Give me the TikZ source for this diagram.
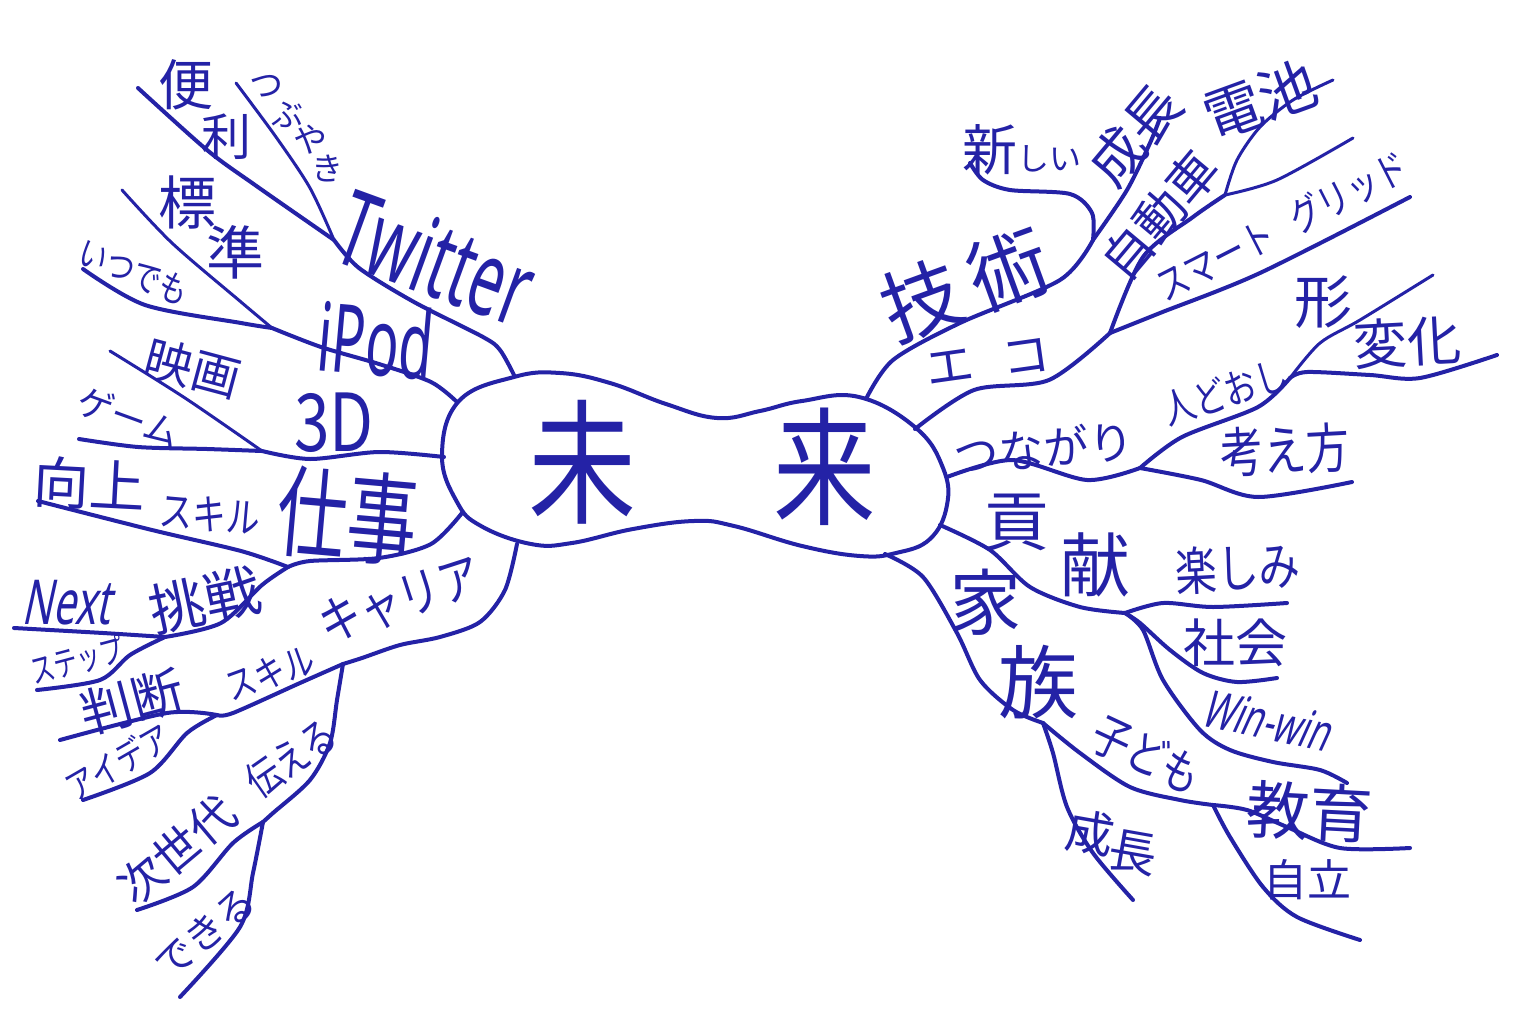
\documentclass[tikz,border=0pt]{standalone}
\usepackage{fontspec}
\newfontfamily\jp{Noto Sans CJK JP}
\newfontfamily\jpn[FakeStretch=0.8]{Noto Sans CJK JP}
\newfontfamily\jpt[FakeStretch=0.7]{Noto Sans CJK JP}
\newfontfamily\latnar[FakeStretch=0.58]{Noto Sans}
\newfontfamily\latslnar[FakeStretch=0.65,FakeSlant=0.22]{Noto Sans}
\newcommand{\fsz}[1]{\fontsize{#1}{#1}\selectfont}
\definecolor{ink}{RGB}{36,34,166}
\tikzset{
  branch/.style={draw=ink, line width=4pt, line cap=round, line join=round},
  twig/.style={draw=ink, line width=3pt, line cap=round, line join=round},
  lbl/.style={text=ink, inner sep=0pt, font=\jp\fsz{#1}},
  lbln/.style={text=ink, inner sep=0pt, font=\jpn\fsz{#1}},
  lblt/.style={text=ink, inner sep=0pt, font=\jpt\fsz{#1}},
  latn/.style={text=ink, inner sep=0pt, font=\latnar\fsz{#1}},
  latsl/.style={text=ink, inner sep=0pt, font=\latslnar\fsz{#1}},
}
\begin{document}
\begin{tikzpicture}[x=1pt,y=-1pt]
\fill[white] (0,0) rectangle (1521,1012);
\useasboundingbox (0,0) rectangle (1521,1012);

% central shape
\draw[branch] plot[smooth cycle, tension=0.7] coordinates {
 (442,455) (459,401) (514,377) (560,373) (610,383) (666,404) (717,418)
 (760,411) (802,401) (859,397) (916,428) (943,468) (947,505) (930,539)
 (896,553) (860,556) (802,546) (734,526) (694,521) (633,529) (572,543)
 (531,544) (481,526) (457,502)};
\node[lbln=135] (mi) at (582,462) {未};
\node[lbln=128] (rai) at (825,467) {来};

% attachment points
\coordinate (L1) at (514,375);
\coordinate (L2) at (457,402);
\coordinate (L3) at (444,457);
\coordinate (L4) at (462,513);
\coordinate (L5) at (517,544);
\coordinate (R1) at (866,399);
\coordinate (R2) at (915,429);
\coordinate (R3) at (947,477);
\coordinate (R4) at (940,525);
\coordinate (R5) at (885,554);

% branch points
\coordinate (tw) at (334,240);
\coordinate (ip) at (272,328);
\coordinate (dd) at (262,451);
\coordinate (sj) at (288,567);
\coordinate (ch) at (165,637);
\coordinate (ca) at (343,664);
\coordinate (hd) at (217,715);
\coordinate (js) at (263,822);
\coordinate (gj) at (1093,240);
\coordinate (ec) at (1110,333);
\coordinate (jd) at (1225,195);
\coordinate (tn) at (1140,468);
\coordinate (hd2) at (1290,378);
\coordinate (kk) at (1125,613);
\coordinate (kz) at (1043,723);
\coordinate (ko) at (1213,805);

% free ends
\coordinate (eBen) at (138,88);
\coordinate (eTsu) at (236,83);
\coordinate (eHyo) at (122,190);
\coordinate (eItsu) at (83,269);
\coordinate (eEiga) at (110,351);
\coordinate (eGame) at (79,439);
\coordinate (eKojo) at (38,501);
\coordinate (eNext) at (14,628);
\coordinate (eStep) at (37,690);
\coordinate (eHan) at (60,740);
\coordinate (eIdea) at (83,800);
\coordinate (eJis) at (137,910);
\coordinate (eDek) at (180,997);
\coordinate (eAta) at (970,163);
\coordinate (eSei) at (1160,118);
\coordinate (eDen) at (1333,80);
\coordinate (eJido) at (1353,138);
\coordinate (eSmart) at (1410,197);
\coordinate (eKata) at (1433,275);
\coordinate (eHen) at (1497,355);
\coordinate (eKan) at (1352,482);
\coordinate (eTano) at (1287,603);
\coordinate (eSha) at (1277,678);
\coordinate (eWin) at (1347,783);
\coordinate (eKyo) at (1410,848);
\coordinate (eJir) at (1360,940);
\coordinate (eSei2) at (1133,900);

% left branches
\draw[branch] plot[smooth] coordinates {(L1) (500,350) (483,337) (414,302) (359,268) (tw)};
\draw[branch] plot[smooth] coordinates {(tw) (255,185) (207,150) (eBen)};
\draw[twig] plot[smooth] coordinates {(tw) (310,188) (276,137) (eTsu)};
\draw[branch] plot[smooth] coordinates {(L2) (431,382) (379,364) (321,347) (ip)};
\draw[twig] plot[smooth] coordinates {(ip) (241,302) (172,243) (eHyo)};
\draw[branch] plot[smooth] coordinates {(ip) (241,323) (145,305) (eItsu)};
\draw[branch] plot[smooth] coordinates {(L3) (379,452) (310,459) (dd)};
\draw[twig] plot[smooth] coordinates {(dd) (185,398) (eEiga)};
\draw[branch] plot[smooth] coordinates {(dd) (207,449) (138,447) (eGame)};
\draw[branch] plot[smooth] coordinates {(L4) (431,544) (379,558) (310,561) (sj)};
\draw[branch] plot[smooth] coordinates {(sj) (241,551) (152,530) (eKojo)};
\draw[branch] plot[smooth] coordinates {(sj) (262,585) (221,623) (ch)};
\draw[branch] plot[smooth] coordinates {(ch) (103,633) (eNext)};
\draw[branch] plot[smooth] coordinates {(ch) (130,655) (100,680) (eStep)};
\draw[branch] plot[smooth] coordinates {(L5) (505,590) (480,622) (440,637) (400,645) (362,658) (ca)};
\draw[branch] plot[smooth] coordinates {(ca) (300,683) (233,713) (hd)};
\draw[branch] plot[smooth] coordinates {(hd) (167,713) (eHan)};
\draw[branch] plot[smooth] coordinates {(hd) (187,733) (150,773) (eIdea)};
\draw[branch] plot[smooth] coordinates {(ca) (337,700) (330,743) (310,780) (273,813) (js)};
\draw[branch] plot[smooth] coordinates {(js) (233,843) (193,887) (eJis)};
\draw[branch] plot[smooth] coordinates {(js) (253,873) (240,927) (eDek)};

% right branches
\draw[branch] plot[smooth] coordinates {(R1) (893,360) (960,323) (1060,280) (gj)};
\draw[branch] plot[smooth] coordinates {(gj) (1092,213) (1070,194) (1010,190) (983,180) (eAta)};
\draw[branch] plot[smooth] coordinates {(gj) (1127,190) (1150,143) (eSei)};
\draw[branch] plot[smooth] coordinates {(R2) (974,390) (1049,380) (ec)};
\draw[branch] plot[smooth] coordinates {(ec) (1160,313) (1260,273) (eSmart)};
\draw[branch] plot[smooth] coordinates {(ec) (1143,257) (1193,217) (jd)};
\draw[twig] plot[smooth] coordinates {(jd) (1237,160) (1260,127) (1293,100) (eDen)};
\draw[twig] plot[smooth] coordinates {(jd) (1277,180) (eJido)};
\draw[branch] plot[smooth] coordinates {(R3) (1012,460) (1087,480) (tn)};
\draw[branch] plot[smooth] coordinates {(tn) (1201,480) (1258,497) (eKan)};
\draw[branch] plot[smooth] coordinates {(tn) (1182,437) (1258,407) (hd2)};
\draw[twig] plot[smooth] coordinates {(hd2) (1320,343) (1360,320) (eKata)};
\draw[branch] plot[smooth] coordinates {(hd2) (1307,372) (1370,375) (1420,378) (eHen)};
\draw[branch] plot[smooth] coordinates {(R4) (990,550) (1030,587) (1080,607) (kk)};
\draw[branch] plot[smooth] coordinates {(kk) (1163,603) (1213,607) (eTano)};
\draw[branch] plot[smooth] coordinates {(kk) (1140,623) (1170,650) (1203,673) (1237,682) (eSha)};
\draw[branch] plot[smooth] coordinates {(kk) (1143,630) (1163,680) (1200,730) (1230,750) (1273,762) (1320,770) (eWin)};
\draw[branch] plot[smooth] coordinates {(R5) (923,577) (957,633) (980,680) (1013,710) (kz)};
\draw[branch] plot[smooth] coordinates {(kz) (1053,753) (1067,807) (1093,853) (eSei2)};
\draw[branch] plot[smooth] coordinates {(kz) (1080,753) (1130,787) (1180,800) (ko)};
\draw[branch] plot[smooth] coordinates {(ko) (1247,810) (1287,827) (1340,848) (eKyo)};
\draw[branch] plot[smooth] coordinates {(ko) (1230,837) (1263,887) (1297,917) (eJir)};

% left labels
\node[lbl=55] (ben) at (186,85) {便};
\node[lbl=50] (ri) at (226,137) {利};
\node[lbl=34] (tsu) at (266,86) {つ};
\node[lbl=32] (bu) at (287,115) {ぶ};
\node[lbl=34] (ya) at (310,140) {や};
\node[lbl=32] (ki) at (327,168) {き};
\node[latn=105, rotate=-20] (twitter) at (436,258) {Twitter};
\node[lbl=58] (hyo) at (187,202) {標};
\node[lbl=58] (jun) at (235,252) {準};
\node[lbln=36, rotate=-22] (itsu) at (134,272) {いつでも};
\node[latn=95, rotate=-5] (ipod) at (376,340) {iPod};
\node[lbl=48, rotate=-15] (eiga) at (193,368) {映画};
\node[lbl=36, rotate=-20] (game) at (129,417) {ゲーム};
\node[lbln=80] (three) at (334,423) {3D};
\node[lbl=56, rotate=-3] (kojo) at (90,484) {向上};
\node[lbln=42, rotate=-5] (skill1) at (210,514) {スキル};
\node[lblt=100, rotate=-5] (shigoto) at (348,516) {仕事};
\node[latsl=62] (next) at (66,603) {Next};
\node[lbl=56, rotate=12] (chosen) at (205,600) {挑戦};
\node[lbln=52, rotate=18] (career) at (400,600) {キャリア};
\node[lblt=34, rotate=15] (stp) at (77,660) {ステップ};
\node[lbl=52, rotate=15] (handan) at (132,702) {判断};
\node[lbln=38, rotate=20] (skill2) at (270,673) {スキル};
\node[lbln=36, rotate=30] (idea) at (118,762) {アイデア};
\node[lbln=42, rotate=35] (tsutaeru) at (291,758) {伝える};
\node[lbl=46, rotate=40] (jisedai) at (177,850) {次世代};
\node[lbl=39, rotate=40] (dekiru) at (205,933) {できる};

% right labels
\node[lbl=80, rotate=20] (gijutsu) at (965,285) {技\hspace{12pt}術};
\node[lbl=55] (atarashii) at (1022,150) {新{\fsz{32}しい}};
\node[lbl=55, rotate=50] (seicho1) at (1135,135) {成長};
\node[lbl=50, rotate=50] (jidosha) at (1160,215) {自動車};
\node[lbl=58, rotate=20] (denchi) at (1260,100) {電池};
\node[lbln=40, rotate=27] (smart) at (1282,226) {スマート\hspace{22pt}グリッド};
\node[lbl=48, rotate=8] (eko) at (988,362) {エ\hspace{28pt}コ};
\node[lbl=45, rotate=5] (tsunagari) at (1044,448) {つながり};
\node[lbln=40, rotate=18] (hitodoshi) at (1225,392) {人どおし};
\node[lbl=58] (katachi) at (1323,302) {形};
\node[lbl=54, rotate=3] (henka) at (1407,342) {変化};
\node[lbln=54, rotate=3] (kangae) at (1285,450) {考え方};
\node[lbl=65] (ko1) at (1017,522) {貢};
\node[lbl=70] (ken) at (1095,565) {献};
\node[lbln=52, rotate=3] (tanoshimi) at (1238,568) {楽しみ};
\node[lbl=52] (shakai) at (1235,643) {社会};
\node[latsl=52, rotate=-12] (winwin) at (1266,720) {Win-win};
\node[lbl=72] (ie) at (985,602) {家};
\node[lbl=80] (zoku) at (1038,682) {族};
\node[lbln=48, rotate=-25] (kodomo) at (1147,755) {子ども};
\node[lbl=63, rotate=-3] (kyoiku) at (1310,812) {教育};
\node[lbl=48, rotate=-10] (sei2) at (1090,833) {成};
\node[lbl=48, rotate=-10] (cho2) at (1133,853) {長};
\node[lbl=44] (jiritsu) at (1307,880) {自立};
\end{tikzpicture}
\end{document}
